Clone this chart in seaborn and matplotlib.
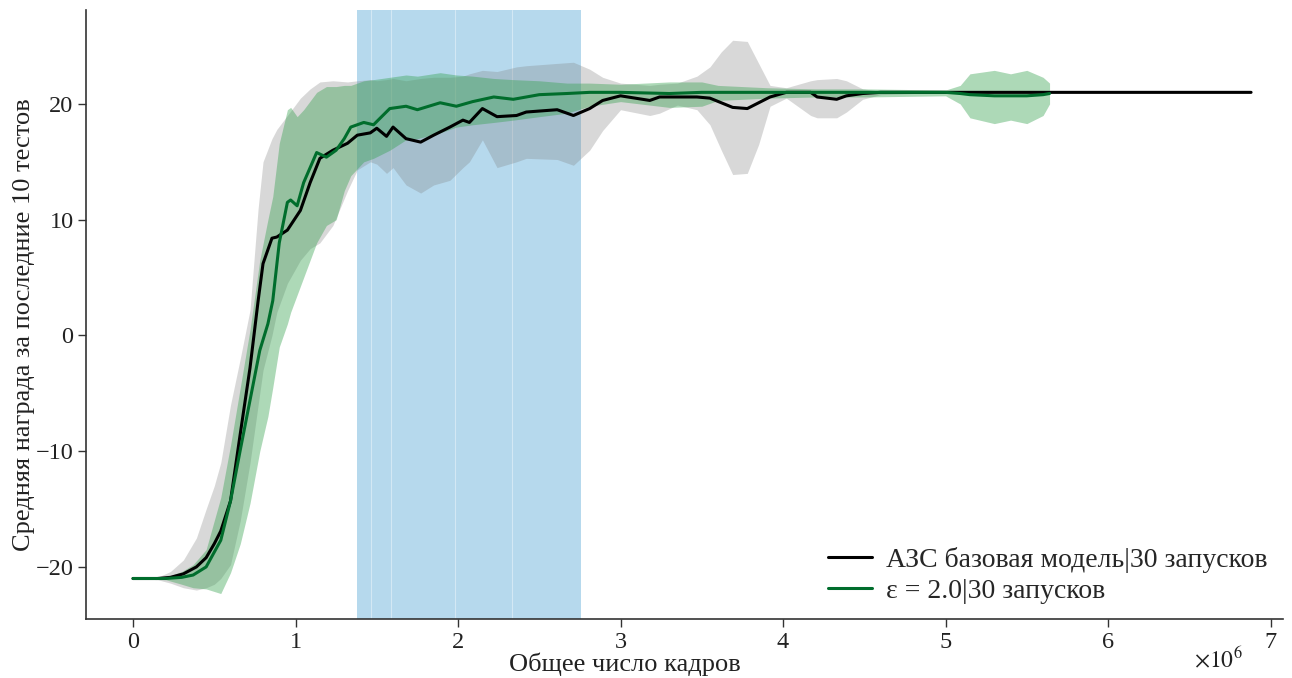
import matplotlib
matplotlib.use("Agg")
import matplotlib.pyplot as plt
import numpy as np
import pandas as pd
import seaborn as sns

# A3C baseline (x in millions of frames)
base_x = [0, 0.15, 0.23, 0.31, 0.39, 0.45, 0.50, 0.54, 0.60, 0.66,
          0.72, 0.77, 0.80, 0.855, 0.885, 0.95, 1.03, 1.09, 1.15, 1.23,
          1.32, 1.38, 1.46, 1.50, 1.56, 1.60, 1.68, 1.77, 1.85, 1.95,
          2.03, 2.07, 2.15, 2.24, 2.36, 2.42, 2.61, 2.71, 2.81, 2.89,
          3.00, 3.18, 3.24, 3.35, 3.47, 3.55, 3.62, 3.69, 3.78, 3.85,
          3.92, 4.02, 4.17, 4.21, 4.33, 4.39, 4.49, 4.60, 5.00, 5.50,
          6.00, 6.50, 6.88]
base_mean = [-21, -21, -20.9, -20.6, -20.0, -19.2, -18.0, -16.9, -14.3, -8.5,
             -2.8, 3.0, 6.2, 8.4, 8.5, 9.1, 10.8, 13.2, 15.3, 16.0,
             16.6, 17.3, 17.5, 17.9, 17.2, 18.0, 17.0, 16.7, 17.3, 18.0,
             18.6, 18.4, 19.6, 18.9, 19.0, 19.3, 19.5, 19.0, 19.6, 20.3,
             20.7, 20.3, 20.6, 20.6, 20.6, 20.5, 20.1, 19.7, 19.6, 20.1,
             20.6, 21.0, 21.0, 20.6, 20.4, 20.7, 20.9, 21.0, 21.0, 21.0,
             21.0, 21.0, 21.0]
base_hi = [-21, -20.9, -20.4, -19.4, -17.5, -15.0, -13.0, -11.0, -6.0, -2.0,
           2.2, 11.0, 15.0, 17.0, 17.8, 19.0, 20.5, 21.3, 21.9, 22.0,
           21.9, 22.0, 22.1, 22.0, 22.1, 22.2, 22.0, 22.2, 22.3, 22.3,
           22.4, 22.6, 22.9, 22.8, 23.2, 23.3, 23.5, 23.6, 23.0, 22.3,
           21.8, 21.6, 21.7, 21.8, 22.4, 23.2, 24.5, 25.5, 25.4, 23.5,
           21.6, 21.4, 22.0, 22.1, 22.2, 22.0, 21.3, 21.1, 21.0, 21.0,
           21.0, 21.0, 21.0]
base_lo = [-21, -21.1, -21.4, -21.8, -22.0, -21.8, -21.5, -21.0, -19.8, -16.0,
           -11.0, -6.0, -3.0, 0.0, 2.0, 4.5, 6.5, 7.5, 8.0, 9.5,
           12.5, 14.3, 15.0, 14.8, 14.0, 14.5, 13.0, 12.3, 13.0, 13.4,
           14.5, 15.0, 16.9, 14.5, 15.0, 15.3, 15.2, 14.7, 16.0, 17.7,
           19.5, 19.0, 19.2, 19.9, 19.5, 18.2, 16.0, 13.9, 14.0, 16.5,
           19.8, 20.5, 19.0, 18.8, 18.8, 19.3, 20.4, 20.8, 21.0, 21.0,
           21.0, 21.0, 21.0]

# epsilon = 2.0
eps_x = [0, 0.20, 0.30, 0.37, 0.45, 0.54, 0.60, 0.66, 0.72, 0.78,
         0.83, 0.86, 0.90, 0.95, 0.97, 1.01, 1.05, 1.13, 1.19, 1.25,
         1.30, 1.34, 1.42, 1.48, 1.58, 1.68, 1.75, 1.89, 1.99, 2.09,
         2.22, 2.34, 2.50, 2.67, 2.81, 3.00, 3.30, 3.50, 3.60, 3.90,
         4.20, 4.50, 5.00, 5.09, 5.15, 5.30, 5.40, 5.50, 5.60, 5.64]
eps_mean = [-21, -21, -20.9, -20.7, -20.0, -17.7, -14.3, -9.9, -5.6, -1.3,
            1.0, 3.0, 8.0, 11.5, 11.7, 11.2, 13.2, 15.8, 15.4, 16.0,
            17.0, 18.0, 18.4, 18.2, 19.6, 19.8, 19.5, 20.1, 19.8, 20.2,
            20.6, 20.4, 20.8, 20.9, 21.0, 21.0, 20.9, 21.0, 21.0, 21.0,
            21.0, 21.0, 21.0, 20.9, 20.8, 20.7, 20.7, 20.7, 20.8, 20.9]
eps_hi = [-21, -20.9, -20.4, -19.8, -18.5, -14.0, -9.5, -4.5, 0.5, 6.5,
          10.0, 12.0, 16.6, 19.5, 19.7, 18.9, 19.5, 21.0, 21.5, 21.5,
          21.6, 21.6, 22.0, 22.1, 22.3, 22.5, 22.4, 22.7, 22.5, 22.4,
          22.2, 22.1, 22.0, 21.8, 21.8, 21.7, 21.9, 21.9, 21.6, 21.4,
          21.3, 21.3, 21.2, 21.6, 22.6, 22.9, 22.6, 22.9, 22.3, 21.8]
eps_lo = [-21, -21.1, -21.5, -21.8, -21.9, -22.3, -20.5, -18.0, -14.5, -10.0,
          -7.0, -4.5, -1.0, 1.0, 2.0, 3.5, 5.0, 8.0, 9.5, 10.0,
          12.5, 13.8, 15.0, 15.3, 16.0, 16.9, 17.0, 17.5, 18.0, 18.2,
          18.4, 18.6, 18.9, 19.2, 19.8, 20.2, 19.7, 19.8, 20.3, 20.5,
          20.6, 20.6, 20.7, 20.0, 18.8, 18.3, 18.6, 18.3, 19.0, 20.0]

# highlighted interval and its internal seams
span_x = [1.378, 2.757]
seam_x = [1.465, 1.588, 1.98, 2.33]

labels = ["АЗС базовая модель|30 запусков", "ε = 2.0|30 запусков"]

sns.set_style("ticks")
plt.rcParams["font.family"] = ["Liberation Serif", "DejaVu Serif"]
plt.rcParams["mathtext.fontset"] = "stix"

fig = plt.figure(figsize=(12.92, 6.78), dpi=100)
ax = fig.add_axes([0.0666, 0.087, 0.9265, 0.898])

ax.axvspan(span_x[0] * 1e6, span_x[1] * 1e6, color="#b6d9ed", lw=0, zorder=0)
for s in seam_x:
    ax.axvline(s * 1e6, color="white", lw=0.8, alpha=0.4, zorder=0.5)

bx = np.array(base_x) * 1e6
ex = np.array(eps_x) * 1e6
ax.fill_between(bx, base_lo, base_hi, color="gray", alpha=0.3, lw=0, zorder=1)
ax.fill_between(ex, eps_lo, eps_hi, color="#33a04d", alpha=0.4, lw=0, zorder=1)

df_b = pd.DataFrame({"x": bx, "y": base_mean})
df_e = pd.DataFrame({"x": ex, "y": eps_mean})
sns.lineplot(data=df_b, x="x", y="y", color="black", lw=2.2, label=labels[0], ax=ax, zorder=3)
sns.lineplot(data=df_e, x="x", y="y", color="#006d2c", lw=2.2, label=labels[1], ax=ax, zorder=3)

ax.set_xlim(-0.289e6, 7.077e6)
ax.set_ylim(-24.5, 28.1)
ax.set_xticks(np.arange(0, 8) * 1e6)
ax.set_xticklabels([str(i) for i in range(8)])
ax.set_yticks([-20, -10, 0, 10, 20])
ax.set_yticklabels(["\u221220", "\u221210", "0", "10", "20"])

for side in ["top", "right"]:
    ax.spines[side].set_visible(False)
for side in ["left", "bottom"]:
    ax.spines[side].set_color("#333333")
    ax.spines[side].set_linewidth(1.2)
ax.tick_params(direction="out", length=6, width=1, colors="#333333",
               labelcolor="#222222", labelsize=17.5, pad=3)

ax.set_xlabel("Общее число кадров", fontsize=19, color="#222222", va="baseline")
ax.xaxis.set_label_coords(0.45, -0.0862)
ax.set_ylabel("Средняя награда за последние 10 тестов", fontsize=19,
              color="#222222", va="center")
ax.yaxis.set_label_coords(-0.0515, 0.483)
ax.text(0.966, -0.0788, r"$\times10^{6}$", transform=ax.transAxes, ha="right",
        va="baseline", fontsize=17, color="#222222")

ax.legend(loc="lower right", bbox_to_anchor=(1.0, 0.0), frameon=False,
          fontsize=20, handlelength=1.6, handletextpad=0.5,
          labelspacing=0.2, borderaxespad=0.15)

fig.savefig("out.png", dpi=100)
